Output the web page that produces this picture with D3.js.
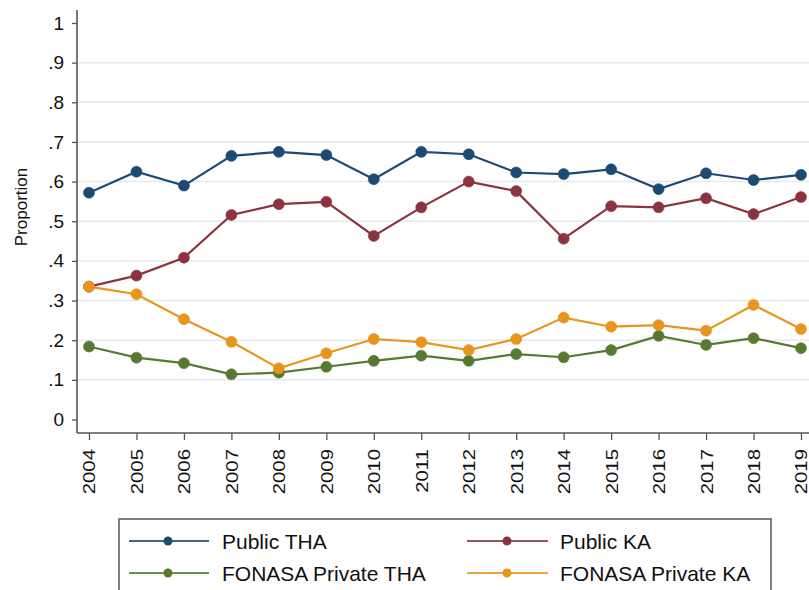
<!DOCTYPE html>
<html>
<head>
<meta charset="utf-8">
<script src="https://cdn.jsdelivr.net/npm/d3@7"></script>
<style>
  html, body { margin: 0; padding: 0; background: #fff; }
  svg { display: block; font-family: "Liberation Sans", Arial, sans-serif; }
</style>
</head>
<body>
<svg id="chart" width="809" height="590"></svg>
<script>
const years = [2004, 2005, 2006, 2007, 2008, 2009, 2010, 2011, 2012, 2013, 2014, 2015, 2016, 2017, 2018, 2019];
const publicTHA = [0.572, 0.625, 0.590, 0.665, 0.675, 0.667, 0.606, 0.675, 0.669, 0.623, 0.619, 0.631, 0.581, 0.621, 0.604, 0.617];
const publicKA = [0.335, 0.363, 0.408, 0.516, 0.543, 0.549, 0.463, 0.535, 0.600, 0.576, 0.456, 0.538, 0.535, 0.558, 0.518, 0.561];
const fonasaPrivateTHA = [0.184, 0.156, 0.142, 0.114, 0.118, 0.133, 0.148, 0.161, 0.148, 0.165, 0.157, 0.175, 0.211, 0.188, 0.205, 0.180];
const fonasaPrivateKA = [0.335, 0.316, 0.253, 0.196, 0.129, 0.167, 0.203, 0.195, 0.175, 0.203, 0.257, 0.234, 0.238, 0.224, 0.289, 0.228];
const yTickValues = [0, 0.1, 0.2, 0.3, 0.4, 0.5, 0.6, 0.7, 0.8, 0.9, 1];
const yTickLabels = ["0", ".1", ".2", ".3", ".4", ".5", ".6", ".7", ".8", ".9", "1"];
const seriesNames = ["Public THA", "Public KA", "FONASA Private THA", "FONASA Private KA"];
const seriesColors = ["#1d4a73", "#8c3340", "#557a30", "#e8951e"];
const yTitle = "Proportion";

const series = [
  { name: seriesNames[0], values: publicTHA, color: seriesColors[0] },
  { name: seriesNames[1], values: publicKA, color: seriesColors[1] },
  { name: seriesNames[2], values: fonasaPrivateTHA, color: seriesColors[2] },
  { name: seriesNames[3], values: fonasaPrivateKA, color: seriesColors[3] }
];

const svg = d3.select("#chart");
const axisX = 77, axisY = 433;
const x = d3.scaleLinear().domain([2004, 2019]).range([89, 801]);
const y = d3.scaleLinear().domain([0, 1]).range([419.5, 23]);

// gridlines
svg.append("g").selectAll("line")
  .data(yTickValues.filter(v => v > 0 && v < 1))
  .join("line")
  .attr("x1", axisX + 1).attr("x2", 809)
  .attr("y1", d => y(d)).attr("y2", d => y(d))
  .attr("stroke", "#e4e9ed").attr("stroke-width", 1.5);

// y axis
const yAxis = d3.axisLeft(y).tickValues(yTickValues)
  .tickFormat((d, i) => yTickLabels[i]).tickSize(5).tickSizeOuter(0).tickPadding(8);
const gy = svg.append("g").attr("transform", `translate(${axisX},0)`).call(yAxis);
gy.select(".domain").remove();
gy.selectAll(".tick line").attr("stroke", "#555").attr("stroke-width", 1.3);
gy.selectAll(".tick text").attr("font-size", 19).attr("fill", "#111")
  .attr("font-family", "Liberation Sans, Arial, sans-serif");
svg.append("line").attr("x1", axisX).attr("x2", axisX).attr("y1", 10).attr("y2", axisY)
  .attr("stroke", "#555").attr("stroke-width", 1.6);

// x axis
const xAxis = d3.axisBottom(x).tickValues(years).tickFormat(d3.format("d"))
  .tickSize(7).tickSizeOuter(0).tickPadding(0);
const gx = svg.append("g").attr("transform", `translate(0,${axisY})`).call(xAxis);
gx.select(".domain").remove();
gx.selectAll(".tick line").attr("stroke", "#555").attr("stroke-width", 1.3);
gx.selectAll(".tick text")
  .attr("font-size", 17).attr("fill", "#111")
  .attr("font-family", "Liberation Sans, Arial, sans-serif")
  .attr("text-anchor", "end").attr("dy", "0.35em").attr("y", 0)
  .attr("transform", "translate(0,16) rotate(-90) scale(1.2,1)");
svg.append("line").attr("x1", axisX).attr("x2", 809).attr("y1", axisY).attr("y2", axisY)
  .attr("stroke", "#555").attr("stroke-width", 1.6);

// y title
svg.append("text")
  .attr("transform", `translate(27,207) rotate(-90)`)
  .attr("text-anchor", "middle")
  .attr("font-size", 17).attr("fill", "#111")
  .text(yTitle);

// lines and markers
const line = d3.line().x((d, i) => x(years[i])).y(d => y(d));
series.forEach(s => {
  svg.append("path").datum(s.values).attr("d", line)
    .attr("fill", "none").attr("stroke", s.color).attr("stroke-width", 2.2);
});
series.forEach(s => {
  svg.append("g").selectAll("circle").data(s.values).join("circle")
    .attr("cx", (d, i) => x(years[i])).attr("cy", d => y(d)).attr("r", 5.5)
    .attr("fill", s.color).attr("stroke", s.color).attr("stroke-opacity", 0.6).attr("stroke-width", 1);
});

// legend
const lg = svg.append("g");
lg.append("rect").attr("x", 119).attr("y", 519).attr("width", 652).attr("height", 80)
  .attr("fill", "#fff").attr("stroke", "#555").attr("stroke-width", 1.5);
const legendPos = [
  { lx1: 129, lx2: 209, mx: 168, tx: 222, ty: 541 },
  { lx1: 467, lx2: 548, mx: 507, tx: 560, ty: 541 },
  { lx1: 129, lx2: 209, mx: 168, tx: 222, ty: 573 },
  { lx1: 467, lx2: 548, mx: 507, tx: 560, ty: 573 }
];
series.forEach((s, i) => {
  const p = legendPos[i];
  lg.append("line").attr("x1", p.lx1).attr("x2", p.lx2).attr("y1", p.ty).attr("y2", p.ty)
    .attr("stroke", s.color).attr("stroke-width", 2.2).attr("stroke-opacity", 0.85);
  lg.append("circle").attr("cx", p.mx).attr("cy", p.ty).attr("r", 4.5).attr("fill", s.color);
  lg.append("text").attr("x", p.tx).attr("y", p.ty).attr("dy", "0.36em")
    .attr("font-size", 21).attr("fill", "#111").text(s.name);
});
</script>
</body>
</html>
